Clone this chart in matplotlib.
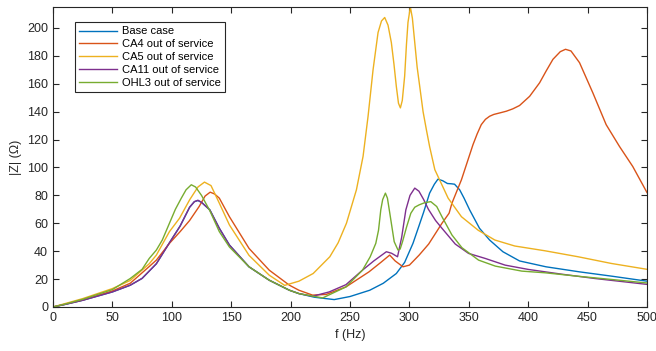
import numpy as np
import matplotlib
matplotlib.use("Agg")
import matplotlib.pyplot as plt

plt.rcParams['font.family'] = ['Liberation Sans', 'DejaVu Sans']

# values (f in Hz, |Z| in ohm)
f_base = [0, 10, 25, 50, 65, 75, 87, 98, 107, 115, 119, 122, 125, 132, 140, 148.5, 165, 182, 199,
          207, 220, 236.7, 250, 266.6, 278, 289, 296, 303, 308, 312, 317, 321, 324, 328, 332,
          335.3, 338, 342.3, 346, 350.7, 359, 367.5, 378.7, 392.7, 415, 443, 471, 500]
z_base = [0, 1.8, 4.8, 10.8, 15.6, 20.5, 31, 46, 58, 71.5, 75.5, 76.3, 75, 69.6, 56.4, 44.4, 28.8,
          19.2, 12, 9.6, 7, 5.3, 7.5, 12, 17, 24, 32, 45.6, 58, 68, 81.6, 88, 91.6, 90.5, 88.5,
          88.3, 88, 84, 78, 69.6, 56.4, 48, 39.6, 33, 28.8, 25.2, 22, 18.5]

f_ca4 = [0, 25, 50, 65, 81, 87, 98, 107, 115, 123, 128, 132.3, 136, 140, 148.5, 165, 182, 199, 207,
         218.5, 230, 246.6, 266, 276, 283.4, 288, 294.6, 300, 308.2, 316.2, 322, 327.4, 333.4,
         335.8, 343.8, 353.5, 357, 360.5, 364, 367.5, 371, 377, 381.5, 387, 392.7, 401.2, 409.6,
         415, 420.8, 427, 431.4, 436, 443.2, 454.4, 465.6, 476.8, 488, 500]
z_ca4 = [0, 5, 11.5, 17, 29, 33.6, 45.6, 54, 62, 72, 79.5, 82.3, 81, 78, 64.7, 42, 26.4, 15.6, 12,
         8.5, 9, 14.4, 25.2, 32, 37.2, 33, 28.8, 30, 37.2, 45.1, 52.8, 60, 67.2, 74.4, 91.2, 116.3,
         124, 130.7, 134.5, 136.7, 138, 139.3, 140.3, 142, 144.4, 151, 160.7, 169, 177.5, 183,
         184.7, 183.5, 175.1, 153.5, 130.7, 115.1, 100.7, 82]

f_ca5 = [0, 25, 50, 65, 81, 87, 98, 106.5, 115, 122, 127.5, 133, 140, 148.5, 165, 182, 195, 207,
         219, 233, 240, 247, 255.4, 261, 265.2, 269.4, 273.6, 276.5, 279.2, 282, 284.8, 287,
         289, 290.8, 292.4, 294, 296, 297.5, 298.8, 300.8, 302.5, 304.5, 306.5, 308.7, 311.5,
         314.3, 317, 321.4, 332.6, 343.8, 357.9, 371.9, 388.7, 414, 442, 470, 500]
z_ca5 = [0, 6, 13.2, 19, 31, 37.2, 54, 63.6, 76.8, 86, 89.5, 87, 74.4, 58.8, 37, 22.8, 15.5, 18.5,
         24, 36, 46, 60, 84, 108, 136.7, 170, 196.7, 205, 207.5, 202, 189.5, 174, 158, 146, 142.7,
         148, 165.5, 188, 204, 215, 207, 189.5, 172, 158, 140, 127, 115, 98.4, 78, 64.7, 55, 48,
         43.7, 40.3, 36, 31.2, 27]

f_ca11 = [0, 10, 25, 50, 65, 75, 87, 98, 107, 115, 119, 122, 125, 132, 140, 148.5, 165, 182, 199,
          207, 218.5, 232.5, 246.6, 260.5, 270, 280.6, 285, 290, 293.5, 297, 300.5, 304.5, 308,
          312, 316, 322, 327.4, 338.6, 349.8, 363.8, 380.6, 400.2, 428.3, 456.3, 500]
z_ca11 = [0, 1.8, 4.8, 10.8, 15.6, 20.5, 31, 46, 58, 71.5, 75.5, 76.5, 75, 69.6, 56.4, 44.4, 28.8,
          19.2, 12, 9.6, 7.7, 10.8, 16, 26.4, 33, 39.6, 38.5, 36, 50, 69.6, 80, 85.2, 83, 77, 70,
          62, 56.4, 45.1, 38.4, 34.8, 30, 26.9, 23.5, 20.4, 16.2]

f_ohl3 = [0, 10, 25, 50, 65, 75, 81, 87, 92, 98, 103, 108, 112, 116.4, 120, 125, 132, 140, 148.5,
          165, 182, 199, 207, 227, 246.6, 260.5, 267, 271.7, 274, 275.9, 277.5, 279.8, 281.5, 283.5,
          287.2, 290.4, 292.2, 294.2, 297.5, 301.2, 304.5, 308.2, 313, 318, 323, 327.4, 335.8,
          344.2, 358.2, 372.3, 394.7, 414.3, 442.3, 470.4, 500]
z_ohl3 = [0, 2, 5.5, 12.5, 20.4, 27, 34.8, 40.8, 48, 60, 70, 78, 84, 87.6, 86, 80, 69, 54, 43,
          28.8, 19.2, 12, 9.6, 6.5, 14.4, 26.4, 36, 45.6, 55, 69.6, 77, 81.6, 78, 67.2, 46.8, 40.8,
          41.5, 46.8, 57, 67.2, 71.5, 73.2, 74.8, 75.5, 72, 64.7, 51.6, 42.5, 33.6, 29.3, 25.7,
          24.5, 22, 19.7, 17.2]

labels = ['Base case', 'CA4 out of service', 'CA5 out of service',
          'CA11 out of service', 'OHL3 out of service']
colors = ['#0072BD', '#D95319', '#EDB120', '#7E2F8E', '#77AC30']

fig = plt.figure(figsize=(6.56, 3.51), dpi=100)
ax = fig.add_axes([0.0808, 0.1254, 0.9055, 0.8546])

series = [(f_base, z_base), (f_ca4, z_ca4), (f_ca5, z_ca5), (f_ca11, z_ca11), (f_ohl3, z_ohl3)]
for (f, z), lab, c in zip(series, labels, colors):
    ax.plot(f, z, color=c, lw=1.0, label=lab)

ax.set_xlim(0, 500)
ax.set_ylim(0, 215)
ax.set_xticks(np.arange(0, 501, 50))
ax.set_yticks(np.arange(0, 201, 20))
ax.tick_params(direction='in', top=True, right=True, length=4, width=0.8,
               labelsize=9, colors='#262626')
for s in ax.spines.values():
    s.set_color('#262626')
    s.set_linewidth(0.8)
ax.set_xlabel('f (Hz)', fontsize=9, color='#262626')
ax.set_ylabel('|Z| (Ω)', fontsize=9, color='#262626', labelpad=4)

leg = ax.legend(loc='upper left', bbox_to_anchor=(0.037, 0.95), borderaxespad=0,
                fontsize=8, handlelength=3.4, handletextpad=0.4, labelspacing=0.25,
                fancybox=False, framealpha=1, edgecolor='#262626', borderpad=0.4)
leg.get_frame().set_linewidth(0.8)

fig.savefig('out.png', dpi=100)
